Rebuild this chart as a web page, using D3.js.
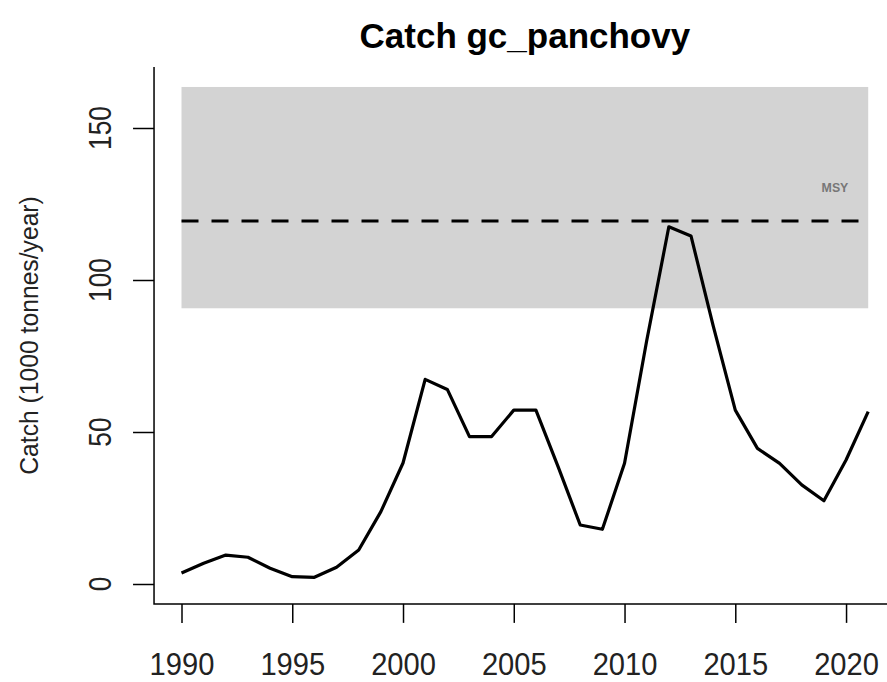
<!DOCTYPE html>
<html><head><meta charset="utf-8">
<script src="https://cdn.jsdelivr.net/npm/d3@7"></script>
<style>body{margin:0;background:#fff} text{font-family:"Liberation Sans",Arial,sans-serif}</style>
</head><body><svg id="c" width="887" height="682"></svg>
<script>
const years = d3.range(1990, 2022);
const catchValues = [3.6,6.8,9.5,8.8,5.2,2.4,2.2,5.5,11.2,23.8,39.8,67.3,64.0,48.5,48.5,57.2,57.2,38.6,19.4,18.0,39.7,80,117.5,114.5,85,57.2,44.6,39.7,32.6,27.4,40.8,56.7];
const msy = 119.4;
const msyLow = 90.7;
const msyHigh = 163.5;
const xTicks = [1990,1995,2000,2005,2010,2015,2020];
const yTicks = [0,50,100,150];
const title = "Catch gc_panchovy";
const yTitle = "Catch (1000 tonnes/year)";

const svg = d3.select("#c");
const x = d3.scaleLinear().domain([1990, 2021]).range([181.5, 868.2]);
const y = d3.scaleLinear().domain([0, 150]).range([584, 128]);
const xPad = (2021-1990)*0.04, yPad = msyHigh*0.04;
const x0 = x(1990 - xPad), x1 = x(2021 + xPad);
const y0 = y(0 - yPad), y1 = y(msyHigh + yPad);

// band
svg.append("rect").attr("x", x(1990)).attr("y", y(msyHigh))
  .attr("width", x(2021)-x(1990)).attr("height", y(msyLow)-y(msyHigh))
  .attr("fill", "#d3d3d3");

// MSY dashed line
svg.append("line").attr("x1", x(1990)).attr("x2", x(2021))
  .attr("y1", y(msy)).attr("y2", y(msy))
  .attr("stroke", "#000").attr("stroke-width", 3).attr("stroke-dasharray", "17,13");

svg.append("text").attr("transform", `translate(${x(2019.5)},${y(130.6)+5}) scale(0.95,1.05)`)
  .attr("text-anchor", "middle").attr("font-size", 13).attr("font-weight","bold").attr("fill", "#777").text("MSY");

// catch line
const data = years.map((yr,i)=>[yr, catchValues[i]]);
svg.append("path").datum(data)
  .attr("d", d3.line().x(d=>x(d[0])).y(d=>y(d[1])))
  .attr("fill", "none").attr("stroke", "#000").attr("stroke-width", 3.2).attr("stroke-linejoin","round");

// L box
svg.append("path").attr("d", `M${x0},${y1}V${y0}H${x1}`)
  .attr("fill","none").attr("stroke","#000").attr("stroke-width",1.5);

// x axis
const gx = svg.append("g").attr("transform", `translate(0,${y0})`)
  .call(d3.axisBottom(x).tickValues(xTicks).tickFormat(d3.format("d")).tickSize(19).tickPadding(29));
gx.select(".domain").remove();
gx.selectAll(".tick line").attr("stroke","#000").attr("stroke-width",1.5);
gx.selectAll(".tick text").attr("font-size", 32).attr("fill","#222")
  .attr("transform","scale(0.91,1)")
  .style("font-family","'Liberation Sans',Arial,sans-serif");

// y axis
const gy = svg.append("g").attr("transform", `translate(${x0},0)`)
  .call(d3.axisLeft(y).tickValues(yTicks).tickSize(21).tickFormat(""));
gy.select(".domain").remove();
gy.selectAll(".tick line").attr("stroke","#000").attr("stroke-width",1.5);
svg.append("g").selectAll("text").data(yTicks).join("text")
  .attr("transform", d=>`translate(111,${y(d)}) rotate(-90) scale(0.85,1)`)
  .attr("text-anchor","middle").attr("font-size", 31).attr("fill","#222").text(d=>d);

// y title
svg.append("text").attr("transform", `translate(38,${(y0+y1)/2}) rotate(-90) scale(0.95,1)`)
  .attr("text-anchor","middle").attr("font-size", 26).attr("fill","#222").text(yTitle);

// title
svg.append("text").attr("x", (x0+x1)/2).attr("y", 48)
  .attr("text-anchor","middle").attr("font-size", 35).attr("font-weight","bold").attr("fill","#000").text(title);
</script></body></html>
